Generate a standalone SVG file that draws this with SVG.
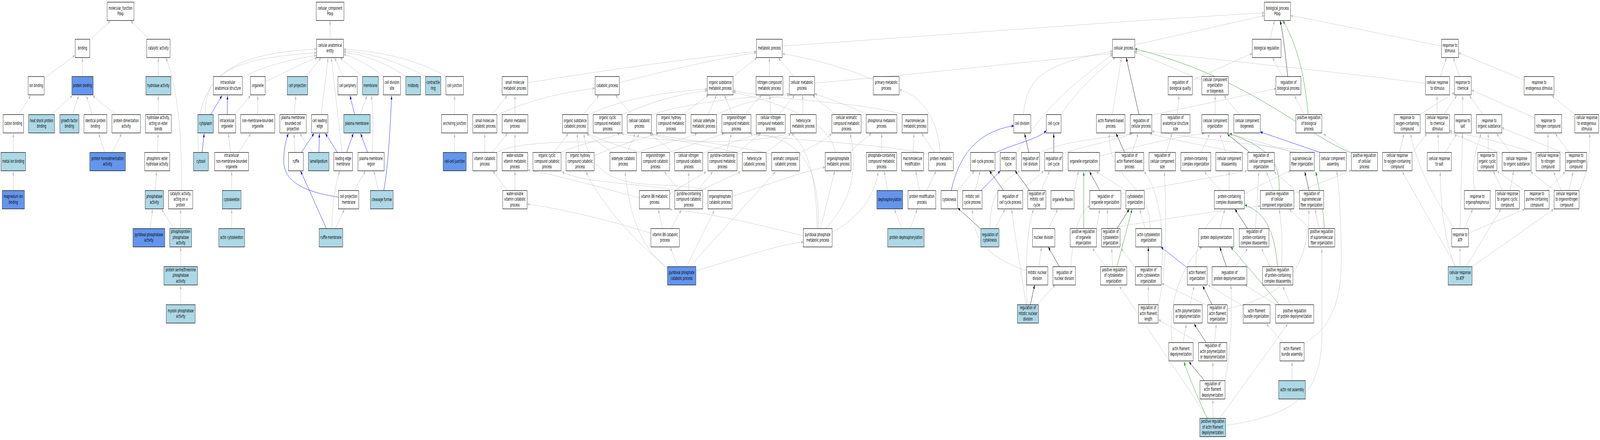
<svg xmlns="http://www.w3.org/2000/svg" width="7680" height="1127" viewBox="0 0 7680 1127" preserveAspectRatio="none" style="width:100vw;height:100vh;display:block">
<style>
.n rect{stroke:#000;stroke-width:1.2}
.w{fill:#fff}.lb{fill:#add8e6}.cb{fill:#6495ed}
text{font-family:"DejaVu Sans",Verdana,sans-serif;font-size:12px;text-anchor:middle;fill:#000}
#edges path{fill:none;stroke-width:1}
.g{stroke:#bebebe;marker-end:url(#ag)}
.b{stroke:#0000ff;marker-end:url(#ab)}
.k{stroke:#000;marker-end:url(#ak)}
.v{stroke:#228b22;marker-end:url(#av)}
</style>
<defs>
<marker id="ag" viewBox="0 0 10 8" refX="10" refY="4" markerWidth="10" markerHeight="8" markerUnits="userSpaceOnUse" orient="auto"><path d="M0,0 L10,4 L0,8 z" fill="#bebebe"/></marker>
<marker id="ab" viewBox="0 0 10 8" refX="10" refY="4" markerWidth="10" markerHeight="8" markerUnits="userSpaceOnUse" orient="auto"><path d="M0,0 L10,4 L0,8 z" fill="#0000ff"/></marker>
<marker id="ak" viewBox="0 0 10 8" refX="10" refY="4" markerWidth="10" markerHeight="8" markerUnits="userSpaceOnUse" orient="auto"><path d="M0,0 L10,4 L0,8 z" fill="#000"/></marker>
<marker id="av" viewBox="0 0 10 8" refX="10" refY="4" markerWidth="10" markerHeight="8" markerUnits="userSpaceOnUse" orient="auto"><path d="M0,0 L10,4 L0,8 z" fill="#228b22"/></marker>
</defs>
<rect x="0" y="0" width="7680" height="1127" fill="#fff"/>
<g id="edges">
<path class="g" d="M433,102 L529,54"/>
<path class="g" d="M714,99 L628,54"/>
<path class="g" d="M212,201 L359,142"/>
<path class="g" d="M396,196 L396,148"/>
<path class="g" d="M247,293 L347,245"/>
<path class="g" d="M349,293 L377,245"/>
<path class="g" d="M442,293 L415,245"/>
<path class="g" d="M555,293 L445,245"/>
<path class="g" d="M760,196 L760,148"/>
<path class="g" d="M872,488 C872,340 855,230 796,148"/>
<path class="g" d="M90,293 L147,245"/>
<path class="g" d="M760,293 L760,245"/>
<path class="g" d="M64,390 L64,342"/>
<path class="g" d="M502,390 L474,342"/>
<path class="g" d="M539,390 L584,342"/>
<path class="g" d="M756,390 L759,342"/>
<path class="g" d="M64,488 L64,439"/>
<path class="g" d="M745,488 L751,439"/>
<path class="g" d="M721,585 L732,536"/>
<path class="g" d="M834,585 L776,536"/>
<path class="g" d="M867,585 L867,536"/>
<path class="g" d="M867,683 L867,633"/>
<path class="g" d="M867,780 L867,731"/>
<path class="b" d="M1012,293 L1065,245"/>
<path class="b" d="M1091,293 L1092,245"/>
<path class="g" d="M1127,293 L1202,245"/>
<path class="g" d="M1237,293 L1237,245"/>
<path class="b" d="M970,390 L980,342"/>
<path class="g" d="M1106,390 L1096,342"/>
<path class="g" d="M1145,390 L1204,342"/>
<path class="g" d="M1112,488 L1112,439"/>
<path class="g" d="M1112,585 L1112,536"/>
<path class="g" d="M953,390 C925,200 1100,135 1519,126"/>
<path class="g" d="M985,293 C985,190 1100,150 1519,135"/>
<path class="g" d="M1163,200 C1250,170 1400,152 1519,142"/>
<path class="g" d="M1273,209 C1350,190 1460,160 1521,148"/>
<path class="g" d="M1584.5,100 L1584.5,53"/>
<path class="g" d="M1468,196 L1541,148"/>
<path class="g" d="M1647,196 L1606,148"/>
<path class="g" d="M1740,196 L1633,148"/>
<path class="g" d="M1840,196 C1780,170 1700,145 1650,140"/>
<path class="g" d="M1948,196 C1850,160 1750,140 1650,134"/>
<path class="g" d="M2042,196 C1920,160 1780,135 1650,130"/>
<path class="g" d="M2140,196 C2000,150 1800,130 1650,126"/>
<path class="g" d="M1541,293 L1575,148"/>
<path class="g" d="M1642,390 L1590,148"/>
<path class="g" d="M1412,293 L1420,245"/>
<path class="b" d="M1702,293 L1680,245"/>
<path class="g" d="M1729,293 L1762,245"/>
<path class="g" d="M1786,390 C1794,330 1792,290 1782,245"/>
<path class="b" d="M1842,488 C1865,420 1872,330 1880,245"/>
<path class="g" d="M2182,293 L2182,245"/>
<path class="g" d="M2182,390 L2182,342"/>
<path class="g" d="M1416,390 L1411,342"/>
<path class="b" d="M1447,390 L1507,342"/>
<path class="g" d="M1499,390 L1439,342"/>
<path class="b" d="M1531,390 L1533,342"/>
<path class="b" d="M1619,390 L1562,342"/>
<path class="b" d="M1664,390 L1696,342"/>
<path class="b" d="M1764,390 L1731,342"/>
<path class="b" d="M1625,505 C1440,490 1360,460 1362,410 C1363,380 1372,360 1384,342"/>
<path class="g" d="M1700,488 L1754,438"/>
<path class="g" d="M1817,488 L1794,438"/>
<path class="b" d="M1567,586 L1443,438"/>
<path class="g" d="M1593,586 C1595,520 1610,470 1631,438"/>
<path class="g" d="M1609,586 L1653,536"/>
<path class="g" d="M2362,293 L2435,245"/>
<path class="g" d="M2472,293 L2472,245"/>
<path class="g" d="M2327,390 L2327,342"/>
<path class="g" d="M2362,390 L2435,342"/>
<path class="g" d="M2472,390 L2472,342"/>
<path class="g" d="M2435,488 L2366,438"/>
<path class="g" d="M2472,488 L2472,438"/>
<path class="g" d="M2385,296 C2500,262 2700,236 2855,226"/>
<path class="g" d="M2533,212 C2900,180 3300,150 3630,132"/>
<path class="g" d="M2385,391 C2480,360 2800,362 2990,365 C3040,366 3060,355 3065,342"/>
<path class="g" d="M2973,212 C3200,180 3450,150 3630,135"/>
<path class="g" d="M3519,196 L3633,148"/>
<path class="g" d="M3693,196 L3693,148"/>
<path class="g" d="M3809,196 L3736,148"/>
<path class="g" d="M4192,205 C4050,170 3850,145 3756,138"/>
<path class="g" d="M3755,118 C4500,90 5500,50 6068,33"/>
<path class="g" d="M3910,213 C4400,190 4900,160 5340,137"/>
<path class="g" d="M2799,293 L2875,244"/>
<path class="g" d="M3031,293 L2955,244"/>
<path class="g" d="M2822,294 C3000,250 3200,236 3394,228"/>
<path class="g" d="M2986,294 C3150,255 3280,240 3394,232"/>
<path class="g" d="M3127,294 C3300,262 3600,248 3789,240"/>
<path class="g" d="M3278,293 L3400,244"/>
<path class="g" d="M3399,293 L3439,244"/>
<path class="g" d="M3441,294 C3550,262 3700,248 3789,244"/>
<path class="g" d="M3515,293 L3477,244"/>
<path class="g" d="M3575,293 L3655,244"/>
<path class="g" d="M3698,293 L3695,244"/>
<path class="g" d="M3738,293 L3814,244"/>
<path class="g" d="M3854,293 L3852,244"/>
<path class="g" d="M4009,293 L3901,244"/>
<path class="g" d="M4163,293 C4050,265 3960,250 3911,240"/>
<path class="g" d="M4330,293 C4150,262 3750,258 3520,232"/>
<path class="g" d="M4008,390 C3990,320 3800,270 3520,236"/>
<path class="g" d="M4232,390 L4232,342"/>
<path class="g" d="M4383,390 L4387,342"/>
<path class="g" d="M4485,390 L4424,342"/>
<path class="g" d="M4513,390 C4500,300 4420,245 4317,230"/>
<path class="g" d="M4458,395 C4200,365 3800,362 3600,342"/>
<path class="g" d="M4260,488 L4244,438"/>
<path class="g" d="M4414,488 L4395,438"/>
<path class="g" d="M4448,488 L4493,438"/>
<path class="g" d="M4330,586 L4293,536"/>
<path class="g" d="M4368,586 L4403,536"/>
<path class="g" d="M4075,390 L4182,342"/>
<path class="g" d="M3938,586 L4007,438"/>
<path class="g" d="M3962,586 C4110,500 4110,420 4081,342"/>
<path class="g" d="M3994,595 C4120,560 4200,500 4215,440"/>
<path class="g" d="M3856,604 C3600,570 3400,545 3214,536"/>
<path class="g" d="M3928,586 C3935,430 3850,360 3640,342"/>
<path class="g" d="M3922,586 C3920,460 3880,380 3800,342"/>
<path class="g" d="M2660,390 L2728,342"/>
<path class="g" d="M2694,390 C2800,365 2920,355 2975,342"/>
<path class="g" d="M2779,390 L2770,342"/>
<path class="g" d="M2852,399 C2950,375 3080,355 3160,342"/>
<path class="g" d="M2937,390 L2815,342"/>
<path class="g" d="M3011,390 L3049,342"/>
<path class="g" d="M3055,392 C3150,370 3300,355 3345,342"/>
<path class="g" d="M3080,392 C2950,370 2870,355 2818,342"/>
<path class="g" d="M3214,390 L3475,342"/>
<path class="g" d="M3373,392 L3640,342"/>
<path class="g" d="M3238,395 C3200,375 3150,355 3118,342"/>
<path class="g" d="M3487,390 L3511,342"/>
<path class="g" d="M3538,392 L3650,342"/>
<path class="g" d="M3678,390 L3796,342"/>
<path class="g" d="M3563,395 C3400,370 3200,360 3120,342"/>
<path class="g" d="M3704,395 C3500,368 3250,358 3125,342"/>
<path class="g" d="M3838,392 C3920,370 3970,355 3992,342"/>
<path class="g" d="M3800,340 C3600,372 3200,368 2982,342"/>
<path class="g" d="M3398,488 C3250,465 3050,485 2930,450 C2850,425 2810,385 2803,342"/>
<path class="g" d="M3245,488 C3100,470 2800,470 2698,440"/>
<path class="g" d="M3306,488 L3306,440"/>
<path class="g" d="M3347,488 L3421,440"/>
<path class="g" d="M3360,488 L3555,440"/>
<path class="g" d="M3262,488 L3189,440"/>
<path class="g" d="M3214,496 L3390,440"/>
<path class="g" d="M3069,507 C2850,475 2650,445 2534,436"/>
<path class="g" d="M3180,586 L3160,536"/>
<path class="g" d="M3220,586 L3270,538"/>
<path class="g" d="M3124,597 C2900,560 2650,530 2531,523"/>
<path class="g" d="M3252,683 L3217,633"/>
<path class="g" d="M3295,683 L3429,539"/>
<path class="g" d="M3311,683 L3722,440"/>
<path class="g" d="M3340,694 C3550,660 3750,625 3856,620"/>
<path class="g" d="M3205,686 C3050,620 2880,520 2813,440"/>
<path class="g" d="M3209,690 C3080,640 3020,550 3001,440"/>
<path class="g" d="M3514,503 C3700,470 3850,440 3961,428"/>
<path class="g" d="M4912,293 C4930,200 5000,165 5340,131"/>
<path class="g" d="M5094,293 C5170,230 5280,180 5353,147"/>
<path class="g" d="M4878,393 C4950,330 5050,250 5340,140"/>
<path class="b" d="M4566,488 C4610,380 4720,335 4866,322"/>
<path class="g" d="M4595,488 L4677,438"/>
<path class="g" d="M4681,488 L4705,438"/>
<path class="b" d="M4709,488 L4801,438"/>
<path class="b" d="M4776,392 C4880,365 4970,360 5022,335"/>
<path class="k" d="M4938,390 L4918,342"/>
<path class="k" d="M5058,390 L5058,342"/>
<path class="k" d="M4817,488 L4750,438"/>
<path class="g" d="M4900,488 L5010,438"/>
<path class="k" d="M4942,488 L4873,438"/>
<path class="g" d="M4997,488 L5039,438"/>
<path class="k" d="M4707,586 L4598,533"/>
<path class="g" d="M4775,586 L4824,536"/>
<path class="g" d="M4752,586 C4752,500 4800,470 4895,437"/>
<path class="g" d="M4928,694 C4750,660 4670,620 4668,536"/>
<path class="g" d="M4925,780 C4900,690 4870,600 4856,536"/>
<path class="g" d="M4930,780 C4920,680 4930,580 4962,536"/>
<path class="k" d="M4946,780 L4966,730"/>
<path class="g" d="M4979,780 L5064,730"/>
<path class="g" d="M4987,683 L4999,633"/>
<path class="k" d="M5085,683 L5032,633"/>
<path class="g" d="M5032,586 L5077,536"/>
<path class="g" d="M5140,683 C5150,600 5180,540 5231,528"/>
<path class="g" d="M5156,489 L5177,438"/>
<path class="g" d="M4989,392 C5100,360 5300,355 5430,342"/>
<path class="g" d="M5102,393 C5200,375 5350,360 5435,342"/>
<path class="g" d="M5447,115 L6068,40"/>
<path class="g" d="M6096,100 L6118,53"/>
<path class="k" d="M6181,196 C6170,140 6160,90 6145,53"/>
<path class="v" d="M6279,293 C6260,180 6220,110 6158,53"/>
<path class="g" d="M6157,196 L6108,148"/>
<path class="g" d="M5724,205 L6010,137"/>
<path class="g" d="M5769,205 L5447,133"/>
<path class="g" d="M5529,295 L6124,227"/>
<path class="k" d="M5467,293 L5406,148"/>
<path class="g" d="M5339,293 L5383,148"/>
<path class="g" d="M5651,293 L5659,245"/>
<path class="g" d="M5833,293 L5833,245"/>
<path class="g" d="M5949,293 L5875,245"/>
<path class="g" d="M6259,293 L6214,245"/>
<path class="v" d="M6487,392 C6250,340 6000,200 5448,125"/>
<path class="g" d="M6487,400 C6200,380 5800,360 5530,336"/>
<path class="g" d="M6490,392 L6353,343"/>
<path class="g" d="M6210,496 L6487,436"/>
<path class="g" d="M6842,214 C6600,195 5800,150 5448,130"/>
<path class="g" d="M6919,118 C6700,95 6400,60 6195,40"/>
<path class="g" d="M5278,400 C5450,375 5650,350 5780,342"/>
<path class="k" d="M5398,390 L5357,342"/>
<path class="g" d="M5434,390 L5463,342"/>
<path class="g" d="M5598,390 L5626,342"/>
<path class="g" d="M5765,390 L5806,343"/>
<path class="g" d="M5883,390 L5855,343"/>
<path class="k" d="M5998,390 L5891,343"/>
<path class="g" d="M5989,395 C5800,375 5600,355 5520,342"/>
<path class="b" d="M6334,390 L6050,338"/>
<path class="g" d="M6334,400 C6100,380 5950,360 5895,342"/>
<path class="g" d="M6200,390 C6100,370 5980,355 5890,342"/>
<path class="k" d="M5279,488 L5230,440"/>
<path class="g" d="M5380,496 L5985,438"/>
<path class="g" d="M5404,488 L5263,440"/>
<path class="v" d="M5202,586 L5202,440"/>
<path class="g" d="M5263,586 L5279,536"/>
<path class="g" d="M5263,590 C5600,560 5900,535 6050,528"/>
<path class="g" d="M5316,586 L5316,536"/>
<path class="k" d="M5361,586 L5420,536"/>
<path class="g" d="M5497,586 L5471,536"/>
<path class="g" d="M5520,586 C5530,470 5320,470 5324,342"/>
<path class="v" d="M5361,683 L5434,536"/>
<path class="g" d="M5308,683 L5243,636"/>
<path class="g" d="M5340,683 L5336,636"/>
<path class="k" d="M5512,683 L5512,633"/>
<path class="g" d="M5446,683 L5381,636"/>
<path class="g" d="M5574,690 C5595,600 5560,480 5491,440"/>
<path class="b" d="M5699,686 L5573,633"/>
<path class="g" d="M5740,683 C5735,560 5900,510 6195,437"/>
<path class="k" d="M5887,683 L5855,633"/>
<path class="g" d="M5928,683 L5989,636"/>
<path class="g" d="M5855,586 L5879,536"/>
<path class="g" d="M5859,488 L5781,440"/>
<path class="g" d="M5900,488 L5900,438"/>
<path class="k" d="M5989,586 L5928,536"/>
<path class="g" d="M6026,586 L6042,440"/>
<path class="v" d="M6132,683 C6120,600 6080,545 5975,525"/>
<path class="g" d="M6096,683 L6055,636"/>
<path class="g" d="M6150,683 C6160,620 6150,570 6140,536"/>
<path class="v" d="M6140,488 C6145,420 6100,380 5903,342"/>
<path class="g" d="M6112,488 L6079,440"/>
<path class="v" d="M6140,780 C6080,740 6000,690 5908,633"/>
<path class="g" d="M6194,780 L6157,733"/>
<path class="g" d="M6124,780 L5977,730"/>
<path class="k" d="M6283,488 L6263,440"/>
<path class="g" d="M6238,496 L6116,440"/>
<path class="g" d="M6332,586 L6312,536"/>
<path class="g" d="M6287,586 L6189,536"/>
<path class="v" d="M6357,586 C6350,520 6330,480 6316,440"/>
<path class="v" d="M5794,1071 C5750,1020 5710,970 5683,927"/>
<path class="g" d="M5822,1071 L5822,1023"/>
<path class="g" d="M5855,1071 L6181,830"/>
<path class="g" d="M5798,1071 L5373,733"/>
<path class="g" d="M5883,1090 C6250,1060 6345,1000 6345,850 L6345,637"/>
<path class="k" d="M5781,975 L5708,927"/>
<path class="g" d="M5822,975 L5822,927"/>
<path class="g" d="M5879,978 C5910,900 5915,800 5908,730"/>
<path class="g" d="M5679,877 L5695,830"/>
<path class="g" d="M5626,880 C5600,760 5700,660 5770,633"/>
<path class="k" d="M5789,877 L5732,830"/>
<path class="g" d="M5830,877 L5838,830"/>
<path class="g" d="M5753,877 L5561,819"/>
<path class="g" d="M5712,780 L5732,733"/>
<path class="k" d="M5818,780 L5773,733"/>
<path class="g" d="M5797,783 L5577,726"/>
<path class="g" d="M5891,791 C6150,760 6280,700 6283,537"/>
<path class="g" d="M5512,780 L5512,733"/>
<path class="g" d="M5559,783 C5600,700 5600,560 5589,440"/>
<path class="g" d="M5965,783 L5798,730"/>
<path class="g" d="M6161,877 L6079,830"/>
<path class="g" d="M6202,975 L6202,927"/>
<path class="g" d="M6260,880 C6420,830 6440,740 6438,650 C6436,540 6425,470 6416,438"/>
<path class="g" d="M6914,196 L6943,148"/>
<path class="g" d="M7006,196 L6976,148"/>
<path class="g" d="M7316,205 L7001,135"/>
<path class="g" d="M6817,293 L6981,237"/>
<path class="g" d="M6898,293 L6898,245"/>
<path class="g" d="M6931,293 L6992,245"/>
<path class="g" d="M7021,293 L7021,245"/>
<path class="g" d="M7118,293 L7053,245"/>
<path class="g" d="M7367,302 L7064,231"/>
<path class="g" d="M7559,293 L7449,245"/>
<path class="g" d="M6718,390 L6739,342"/>
<path class="g" d="M6776,392 L6849,342"/>
<path class="g" d="M6906,390 L6902,342"/>
<path class="g" d="M6939,390 L6992,342"/>
<path class="g" d="M7143,390 L7144,342"/>
<path class="g" d="M7249,390 L7184,342"/>
<path class="g" d="M7210,394 C7100,370 7000,350 6958,338"/>
<path class="g" d="M7430,390 L7430,342"/>
<path class="g" d="M7373,394 C7200,360 7050,348 6958,334"/>
<path class="g" d="M7531,390 L7465,342"/>
<path class="g" d="M7514,394 L7209,327"/>
<path class="g" d="M7078,488 C7060,420 7090,370 7110,342"/>
<path class="g" d="M7212,488 L7167,438"/>
<path class="g" d="M7249,488 L7265,438"/>
<path class="g" d="M7320,490 L7186,438"/>
<path class="g" d="M7425,488 L7513,440"/>
<path class="g" d="M7462,488 L7347,440"/>
<path class="g" d="M7494,488 L7457,440"/>
<path class="g" d="M7531,488 L7551,440"/>
<path class="g" d="M7580,488 C7625,440 7635,380 7629,342"/>
<path class="g" d="M7029,586 L7069,536"/>
<path class="g" d="M7049,597 L7318,536"/>
<path class="g" d="M7008,586 L7020,342"/>
<path class="g" d="M6981,586 C6900,520 6800,430 6771,342"/>
<path class="g" d="M7008,683 L7008,633"/>
<path class="g" d="M6988,683 L6731,440"/>
<path class="g" d="M6984,683 C6930,610 6915,520 6913,440"/>
<path class="g" d="M7037,683 L7204,536"/>
<path class="g" d="M7067,683 L7457,536"/>
</g>
<g id="n_mf" class="n"><rect class="w" x="514" y="5.5" width="129" height="47"/><text x="578.5" y="25">molecular_function<tspan x="578.5" dy="14.5">Pdxp</tspan></text></g>
<g id="n_binding" class="n"><rect class="w" x="361" y="100.5" width="70" height="47"/><text x="396" y="127.5">binding</text></g>
<g id="n_cat" class="n"><rect class="w" x="704" y="100.5" width="112" height="47"/><text x="760" y="127.5">catalytic activity</text></g>
<g id="n_ionb" class="n"><rect class="w" x="135" y="196" width="77" height="47"/><text x="173.5" y="223">ion binding</text></g>
<g id="n_protb" class="n"><rect class="cb" x="345" y="196" width="102" height="47"/><text x="396" y="223">protein binding</text></g>
<g id="n_hydro" class="n"><rect class="lb" x="700" y="196" width="120" height="47"/><text x="760" y="223">hydrolase activity</text></g>
<g id="n_iaas" class="n"><rect class="w" x="1024" y="196" width="139" height="47"/><text x="1093.5" y="215.5">intracellular<tspan x="1093.5" dy="14.5">anatomical structure</tspan></text></g>
<g id="n_organelle" class="n"><rect class="w" x="1202" y="196" width="71" height="47"/><text x="1237.5" y="223">organelle</text></g>
<g id="n_cationb" class="n"><rect class="w" x="15" y="293.5" width="98" height="47"/><text x="64" y="320.5">cation binding</text></g>
<g id="n_hsp" class="n"><rect class="lb" x="137" y="293.5" width="125" height="47"/><text x="199.5" y="313">heat shock protein<tspan x="199.5" dy="14.5">binding</tspan></text></g>
<g id="n_gfb" class="n"><rect class="lb" x="287" y="293.5" width="92" height="47"/><text x="333" y="313">growth factor<tspan x="333" dy="14.5">binding</tspan></text></g>
<g id="n_ipb" class="n"><rect class="w" x="403" y="293.5" width="110" height="47"/><text x="458" y="313">identical protein<tspan x="458" dy="14.5">binding</tspan></text></g>
<g id="n_pda" class="n"><rect class="w" x="537" y="293.5" width="137" height="47"/><text x="605.5" y="313">protein dimerization<tspan x="605.5" dy="14.5">activity</tspan></text></g>
<g id="n_haeb" class="n"><rect class="w" x="698" y="293.5" width="124" height="47"/><text x="760" y="305.5">hydrolase activity,<tspan x="760" dy="14.5">acting on ester</tspan><tspan x="760" dy="14.5">bonds</tspan></text></g>
<g id="n_cytoplasm" class="n"><rect class="lb" x="950" y="293.5" width="74" height="47"/><text x="987" y="320.5">cytoplasm</text></g>
<g id="n_io" class="n"><rect class="w" x="1049" y="293.5" width="82" height="47"/><text x="1090" y="313">intracellular<tspan x="1090" dy="14.5">organelle</tspan></text></g>
<g id="n_nmbo" class="n"><rect class="w" x="1155" y="293.5" width="164" height="47"/><text x="1237" y="313">non-membrane-bounded<tspan x="1237" dy="14.5">organelle</tspan></text></g>
<g id="n_mib" class="n"><rect class="lb" x="5" y="390.5" width="118" height="47"/><text x="64" y="417.5">metal ion binding</text></g>
<g id="n_phda" class="n"><rect class="cb" x="431" y="390.5" width="171" height="47"/><text x="516.5" y="410">protein homodimerization<tspan x="516.5" dy="14.5">activity</tspan></text></g>
<g id="n_peha" class="n"><rect class="w" x="694" y="390.5" width="121" height="47"/><text x="754.5" y="410">phosphoric ester<tspan x="754.5" dy="14.5">hydrolase activity</tspan></text></g>
<g id="n_cytosol" class="n"><rect class="lb" x="929" y="390.5" width="71" height="47"/><text x="964.5" y="417.5">cytosol</text></g>
<g id="n_inmbo" class="n"><rect class="w" x="1030" y="390.5" width="163" height="47"/><text x="1111.5" y="402.5">intracellular<tspan x="1111.5" dy="14.5">non-membrane-bounded</tspan><tspan x="1111.5" dy="14.5">organelle</tspan></text></g>
<g id="n_mgb" class="n"><rect class="cb" x="11" y="488" width="106" height="47"/><text x="64" y="507.5">magnesium ion<tspan x="64" dy="14.5">binding</tspan></text></g>
<g id="n_phosa" class="n"><rect class="lb" x="697" y="488" width="88" height="47"/><text x="741" y="507.5">phosphatase<tspan x="741" dy="14.5">activity</tspan></text></g>
<g id="n_capa" class="n"><rect class="w" x="809" y="488" width="116" height="47"/><text x="867" y="500">catalytic activity,<tspan x="867" dy="14.5">acting on a</tspan><tspan x="867" dy="14.5">protein</tspan></text></g>
<g id="n_cytosk" class="n"><rect class="lb" x="1068" y="488" width="89" height="47"/><text x="1112.5" y="515">cytoskeleton</text></g>
<g id="n_pyrpa" class="n"><rect class="cb" x="638" y="585.5" width="153" height="47"/><text x="714.5" y="605">pyridoxal phosphatase<tspan x="714.5" dy="14.5">activity</tspan></text></g>
<g id="n_ppa" class="n"><rect class="lb" x="815" y="585.5" width="105" height="47"/><text x="867.5" y="597.5">phosphoprotein<tspan x="867.5" dy="14.5">phosphatase</tspan><tspan x="867.5" dy="14.5">activity</tspan></text></g>
<g id="n_actcyto" class="n"><rect class="lb" x="1050" y="585.5" width="124" height="47"/><text x="1112" y="612.5">actin cytoskeleton</text></g>
<g id="n_pstpa" class="n"><rect class="lb" x="787" y="683" width="161" height="47"/><text x="867.5" y="695">protein serine/threonine<tspan x="867.5" dy="14.5">phosphatase</tspan><tspan x="867.5" dy="14.5">activity</tspan></text></g>
<g id="n_myo" class="n"><rect class="lb" x="798" y="780.5" width="139" height="47"/><text x="867.5" y="800">myosin phosphatase<tspan x="867.5" dy="14.5">activity</tspan></text></g>
<g id="n_cc" class="n"><rect class="w" x="1518" y="5.5" width="133" height="47"/><text x="1584.5" y="25">cellular_component<tspan x="1584.5" dy="14.5">Pdxp</tspan></text></g>
<g id="n_cae" class="n"><rect class="w" x="1520" y="100.5" width="129" height="47"/><text x="1584.5" y="120">cellular anatomical<tspan x="1584.5" dy="14.5">entity</tspan></text></g>
<g id="n_cproj" class="n"><rect class="lb" x="1379" y="196" width="98" height="47"/><text x="1428" y="223">cell projection</text></g>
<g id="n_cper" class="n"><rect class="w" x="1622" y="196" width="93" height="47"/><text x="1668.5" y="223">cell periphery</text></g>
<g id="n_memb" class="n"><rect class="lb" x="1740" y="196" width="76" height="47"/><text x="1778" y="223">membrane</text></g>
<g id="n_cds" class="n"><rect class="w" x="1840" y="196" width="83" height="47"/><text x="1881.5" y="215.5">cell division<tspan x="1881.5" dy="14.5">site</tspan></text></g>
<g id="n_midbody" class="n"><rect class="lb" x="1948" y="196" width="71" height="47"/><text x="1983.5" y="223">midbody</text></g>
<g id="n_cring" class="n"><rect class="lb" x="2042" y="196" width="74" height="47"/><text x="2079" y="215.5">contractile<tspan x="2079" dy="14.5">ring</tspan></text></g>
<g id="n_cjunc" class="n"><rect class="w" x="2140" y="196" width="85" height="47"/><text x="2182.5" y="223">cell junction</text></g>
<g id="n_pmbcp" class="n"><rect class="w" x="1343" y="293.5" width="127" height="47"/><text x="1406.5" y="305.5">plasma membrane<tspan x="1406.5" dy="14.5">bounded cell</tspan><tspan x="1406.5" dy="14.5">projection</tspan></text></g>
<g id="n_cle" class="n"><rect class="w" x="1495" y="293.5" width="79" height="47"/><text x="1534.5" y="313">cell leading<tspan x="1534.5" dy="14.5">edge</tspan></text></g>
<g id="n_pm" class="n"><rect class="lb" x="1650" y="293.5" width="127" height="47"/><text x="1713.5" y="320.5">plasma membrane</text></g>
<g id="n_ajunc" class="n"><rect class="w" x="2120" y="293.5" width="124" height="47"/><text x="2182" y="320.5">anchoring junction</text></g>
<g id="n_ruffle" class="n"><rect class="w" x="1385" y="390.5" width="71" height="47"/><text x="1420.5" y="417.5">ruffle</text></g>
<g id="n_lamel" class="n"><rect class="lb" x="1480" y="390.5" width="99" height="47"/><text x="1529.5" y="417.5">lamellipodium</text></g>
<g id="n_lem" class="n"><rect class="w" x="1602" y="390.5" width="90" height="47"/><text x="1647" y="410">leading edge<tspan x="1647" dy="14.5">membrane</tspan></text></g>
<g id="n_pmr" class="n"><rect class="w" x="1718" y="390.5" width="126" height="47"/><text x="1781" y="410">plasma membrane<tspan x="1781" dy="14.5">region</tspan></text></g>
<g id="n_ccj" class="n"><rect class="cb" x="2127" y="390.5" width="111" height="47"/><text x="2182.5" y="417.5">cell-cell junction</text></g>
<g id="n_cpm" class="n"><rect class="w" x="1625" y="488" width="97" height="47"/><text x="1673.5" y="507.5">cell projection<tspan x="1673.5" dy="14.5">membrane</tspan></text></g>
<g id="n_cfur" class="n"><rect class="lb" x="1778" y="488" width="109" height="47"/><text x="1832.5" y="515">cleavage furrow</text></g>
<g id="n_rmem" class="n"><rect class="lb" x="1532" y="585.5" width="113" height="47"/><text x="1588.5" y="612.5">ruffle membrane</text></g>
<g id="n_smm" class="n"><rect class="w" x="2410" y="196" width="123" height="47"/><text x="2471.5" y="215.5">small molecule<tspan x="2471.5" dy="14.5">metabolic process</tspan></text></g>
<g id="n_smc" class="n"><rect class="w" x="2269" y="293.5" width="116" height="47"/><text x="2327" y="313">small molecule<tspan x="2327" dy="14.5">catabolic process</tspan></text></g>
<g id="n_vm" class="n"><rect class="w" x="2410" y="293.5" width="124" height="47"/><text x="2472" y="313">vitamin metabolic<tspan x="2472" dy="14.5">process</tspan></text></g>
<g id="n_vc" class="n"><rect class="w" x="2269" y="390.5" width="116" height="47"/><text x="2327" y="410">vitamin catabolic<tspan x="2327" dy="14.5">process</tspan></text></g>
<g id="n_wsvm" class="n"><rect class="w" x="2410" y="390.5" width="123" height="47"/><text x="2471.5" y="402.5">water-soluble<tspan x="2471.5" dy="14.5">vitamin metabolic</tspan><tspan x="2471.5" dy="14.5">process</tspan></text></g>
<g id="n_wsvc" class="n"><rect class="w" x="2413" y="488" width="117" height="47"/><text x="2471.5" y="500">water-soluble<tspan x="2471.5" dy="14.5">vitamin catabolic</tspan><tspan x="2471.5" dy="14.5">process</tspan></text></g>
<g id="n_metab" class="n"><rect class="w" x="3631" y="100.5" width="124" height="47"/><text x="3693" y="127.5">metabolic process</text></g>
<g id="n_catab" class="n"><rect class="w" x="2857" y="196" width="116" height="47"/><text x="2915" y="223">catabolic process</text></g>
<g id="n_osm" class="n"><rect class="w" x="3395" y="196" width="124" height="47"/><text x="3457" y="215.5">organic substance<tspan x="3457" dy="14.5">metabolic process</tspan></text></g>
<g id="n_ncm" class="n"><rect class="w" x="3629" y="196" width="129" height="47"/><text x="3693.5" y="215.5">nitrogen compound<tspan x="3693.5" dy="14.5">metabolic process</tspan></text></g>
<g id="n_cm" class="n"><rect class="w" x="3789" y="196" width="121" height="47"/><text x="3849.5" y="215.5">cellular metabolic<tspan x="3849.5" dy="14.5">process</tspan></text></g>
<g id="n_osc" class="n"><rect class="w" x="2700" y="293.5" width="122" height="47"/><text x="2761" y="313">organic substance<tspan x="2761" dy="14.5">catabolic process</tspan></text></g>
<g id="n_occm" class="n"><rect class="w" x="2847" y="293.5" width="139" height="47"/><text x="2916.5" y="305.5">organic cyclic<tspan x="2916.5" dy="14.5">compound metabolic</tspan><tspan x="2916.5" dy="14.5">process</tspan></text></g>
<g id="n_ccat" class="n"><rect class="w" x="3011" y="293.5" width="116" height="47"/><text x="3069" y="313">cellular catabolic<tspan x="3069" dy="14.5">process</tspan></text></g>
<g id="n_ohcm" class="n"><rect class="w" x="3152" y="293.5" width="139" height="47"/><text x="3221.5" y="305.5">organic hydroxy<tspan x="3221.5" dy="14.5">compound metabolic</tspan><tspan x="3221.5" dy="14.5">process</tspan></text></g>
<g id="n_cam" class="n"><rect class="w" x="3317" y="293.5" width="123" height="47"/><text x="3378.5" y="313">cellular aldehyde<tspan x="3378.5" dy="14.5">metabolic process</tspan></text></g>
<g id="n_oncm" class="n"><rect class="w" x="3465" y="293.5" width="140" height="47"/><text x="3535" y="305.5">organonitrogen<tspan x="3535" dy="14.5">compound metabolic</tspan><tspan x="3535" dy="14.5">process</tspan></text></g>
<g id="n_cncm" class="n"><rect class="w" x="3630" y="293.5" width="139" height="47"/><text x="3699.5" y="305.5">cellular nitrogen<tspan x="3699.5" dy="14.5">compound metabolic</tspan><tspan x="3699.5" dy="14.5">process</tspan></text></g>
<g id="n_hm" class="n"><rect class="w" x="3794" y="293.5" width="124" height="47"/><text x="3856" y="313">heterocycle<tspan x="3856" dy="14.5">metabolic process</tspan></text></g>
<g id="n_occc" class="n"><rect class="w" x="2558" y="390.5" width="135" height="47"/><text x="2625.5" y="402.5">organic cyclic<tspan x="2625.5" dy="14.5">compound catabolic</tspan><tspan x="2625.5" dy="14.5">process</tspan></text></g>
<g id="n_ohcc" class="n"><rect class="w" x="2717" y="390.5" width="135" height="47"/><text x="2784.5" y="402.5">organic hydroxy<tspan x="2784.5" dy="14.5">compound catabolic</tspan><tspan x="2784.5" dy="14.5">process</tspan></text></g>
<g id="n_acp" class="n"><rect class="w" x="2928" y="390.5" width="127" height="47"/><text x="2991.5" y="410">aldehyde catabolic<tspan x="2991.5" dy="14.5">process</tspan></text></g>
<g id="n_oncc" class="n"><rect class="w" x="3079" y="390.5" width="135" height="47"/><text x="3146.5" y="402.5">organonitrogen<tspan x="3146.5" dy="14.5">compound catabolic</tspan><tspan x="3146.5" dy="14.5">process</tspan></text></g>
<g id="n_cncc" class="n"><rect class="w" x="3238" y="390.5" width="135" height="47"/><text x="3305.5" y="402.5">cellular nitrogen<tspan x="3305.5" dy="14.5">compound catabolic</tspan><tspan x="3305.5" dy="14.5">process</tspan></text></g>
<g id="n_pcm" class="n"><rect class="w" x="3398" y="390.5" width="140" height="47"/><text x="3468" y="402.5">pyridine-containing<tspan x="3468" dy="14.5">compound metabolic</tspan><tspan x="3468" dy="14.5">process</tspan></text></g>
<g id="n_hc" class="n"><rect class="w" x="3563" y="390.5" width="115" height="47"/><text x="3620.5" y="410">heterocycle<tspan x="3620.5" dy="14.5">catabolic process</tspan></text></g>
<g id="n_acc" class="n"><rect class="w" x="3704" y="390.5" width="134" height="47"/><text x="3771" y="410">aromatic compound<tspan x="3771" dy="14.5">catabolic process</tspan></text></g>
<g id="n_vb6m" class="n"><rect class="w" x="3069" y="488" width="145" height="47"/><text x="3141.5" y="507.5">vitamin B6 metabolic<tspan x="3141.5" dy="14.5">process</tspan></text></g>
<g id="n_pcc" class="n"><rect class="w" x="3239" y="488" width="134" height="47"/><text x="3306" y="500">pyridine-containing<tspan x="3306" dy="14.5">compound catabolic</tspan><tspan x="3306" dy="14.5">process</tspan></text></g>
<g id="n_opc" class="n"><rect class="w" x="3398" y="488" width="116" height="47"/><text x="3456" y="507.5">organophosphate<tspan x="3456" dy="14.5">catabolic process</tspan></text></g>
<g id="n_vb6c" class="n"><rect class="w" x="3124" y="585.5" width="137" height="47"/><text x="3192.5" y="605">vitamin B6 catabolic<tspan x="3192.5" dy="14.5">process</tspan></text></g>
<g id="n_plpc" class="n"><rect class="cb" x="3204" y="683" width="136" height="47"/><text x="3272" y="702.5">pyridoxal phosphate<tspan x="3272" dy="14.5">catabolic process</tspan></text></g>
<g id="n_prim" class="n"><rect class="w" x="4192" y="196" width="124" height="47"/><text x="4254" y="215.5">primary metabolic<tspan x="4254" dy="14.5">process</tspan></text></g>
<g id="n_cacm" class="n"><rect class="w" x="3993" y="293.5" width="140" height="47"/><text x="4063" y="305.5">cellular aromatic<tspan x="4063" dy="14.5">compound metabolic</tspan><tspan x="4063" dy="14.5">process</tspan></text></g>
<g id="n_phm" class="n"><rect class="w" x="4158" y="293.5" width="147" height="47"/><text x="4231.5" y="313">phosphorus metabolic<tspan x="4231.5" dy="14.5">process</tspan></text></g>
<g id="n_mmm" class="n"><rect class="w" x="4330" y="293.5" width="123" height="47"/><text x="4391.5" y="313">macromolecule<tspan x="4391.5" dy="14.5">metabolic process</tspan></text></g>
<g id="n_cdiv" class="n"><rect class="w" x="4866" y="293.5" width="82" height="47"/><text x="4907" y="320.5">cell division</text></g>
<g id="n_ccyc" class="n"><rect class="w" x="5022" y="293.5" width="71" height="47"/><text x="5057.5" y="320.5">cell cycle</text></g>
<g id="n_opm" class="n"><rect class="w" x="3961" y="390.5" width="124" height="47"/><text x="4023" y="410">organophosphate<tspan x="4023" dy="14.5">metabolic process</tspan></text></g>
<g id="n_pccm" class="n"><rect class="w" x="4159" y="390.5" width="145" height="47"/><text x="4231.5" y="402.5">phosphate-containing<tspan x="4231.5" dy="14.5">compound metabolic</tspan><tspan x="4231.5" dy="14.5">process</tspan></text></g>
<g id="n_mmod" class="n"><rect class="w" x="4327" y="390.5" width="106" height="47"/><text x="4380" y="410">macromolecule<tspan x="4380" dy="14.5">modification</tspan></text></g>
<g id="n_protm" class="n"><rect class="w" x="4458" y="390.5" width="118" height="47"/><text x="4517" y="410">protein metabolic<tspan x="4517" dy="14.5">process</tspan></text></g>
<g id="n_ccp" class="n"><rect class="w" x="4658" y="390.5" width="118" height="47"/><text x="4717" y="417.5">cell cycle process</text></g>
<g id="n_mcc" class="n"><rect class="w" x="4801" y="390.5" width="77" height="47"/><text x="4839.5" y="410">mitotic cell<tspan x="4839.5" dy="14.5">cycle</tspan></text></g>
<g id="n_rcd" class="n"><rect class="w" x="4903" y="390.5" width="87" height="47"/><text x="4946.5" y="410">regulation of<tspan x="4946.5" dy="14.5">cell division</tspan></text></g>
<g id="n_rcc" class="n"><rect class="w" x="5014" y="390.5" width="87" height="47"/><text x="5057.5" y="410">regulation of<tspan x="5057.5" dy="14.5">cell cycle</tspan></text></g>
<g id="n_dephos" class="n"><rect class="cb" x="4209" y="488" width="124" height="47"/><text x="4271" y="515">dephosphorylation</text></g>
<g id="n_pmodp" class="n"><rect class="w" x="4358" y="488" width="134" height="47"/><text x="4425" y="507.5">protein modification<tspan x="4425" dy="14.5">process</tspan></text></g>
<g id="n_cytok" class="n"><rect class="w" x="4517" y="488" width="79" height="47"/><text x="4556.5" y="515">cytokinesis</text></g>
<g id="n_mccp" class="n"><rect class="w" x="4621" y="488" width="93" height="47"/><text x="4667.5" y="507.5">mitotic cell<tspan x="4667.5" dy="14.5">cycle process</tspan></text></g>
<g id="n_rccp" class="n"><rect class="w" x="4789" y="488" width="120" height="47"/><text x="4849" y="507.5">regulation of<tspan x="4849" dy="14.5">cell cycle process</tspan></text></g>
<g id="n_rmcc" class="n"><rect class="w" x="4933" y="488" width="87" height="47"/><text x="4976.5" y="500">regulation of<tspan x="4976.5" dy="14.5">mitotic cell</tspan><tspan x="4976.5" dy="14.5">cycle</tspan></text></g>
<g id="n_ofis" class="n"><rect class="w" x="5045" y="488" width="111" height="47"/><text x="5100.5" y="515">organelle fission</text></g>
<g id="n_plpm" class="n"><rect class="w" x="3856" y="585.5" width="138" height="47"/><text x="3925" y="605">pyridoxal phosphate<tspan x="3925" dy="14.5">metabolic process</tspan></text></g>
<g id="n_pdeph" class="n"><rect class="lb" x="4261" y="585.5" width="175" height="47"/><text x="4348.5" y="612.5">protein dephosphorylation</text></g>
<g id="n_rcytok" class="n"><rect class="lb" x="4708" y="585.5" width="87" height="47"/><text x="4751.5" y="605">regulation of<tspan x="4751.5" dy="14.5">cytokinesis</tspan></text></g>
<g id="n_nucdiv" class="n"><rect class="w" x="4956" y="585.5" width="107" height="47"/><text x="5009.5" y="612.5">nuclear division</text></g>
<g id="n_mnd" class="n"><rect class="w" x="4928" y="683" width="102" height="47"/><text x="4979" y="702.5">mitotic nuclear<tspan x="4979" dy="14.5">division</tspan></text></g>
<g id="n_rnd" class="n"><rect class="w" x="5054" y="683" width="108" height="47"/><text x="5108" y="702.5">regulation of<tspan x="5108" dy="14.5">nuclear division</tspan></text></g>
<g id="n_rmnd" class="n"><rect class="lb" x="4883" y="780.5" width="102" height="47"/><text x="4934" y="792.5">regulation of<tspan x="4934" dy="14.5">mitotic nuclear</tspan><tspan x="4934" dy="14.5">division</tspan></text></g>
<g id="n_bp" class="n"><rect class="w" x="6069" y="5.5" width="125" height="47"/><text x="6131.5" y="25">biological_process<tspan x="6131.5" dy="14.5">Pdxp</tspan></text></g>
<g id="n_cp" class="n"><rect class="w" x="5340" y="100.5" width="107" height="47"/><text x="5393.5" y="127.5">cellular process</text></g>
<g id="n_breg" class="n"><rect class="w" x="6011" y="100.5" width="138" height="47"/><text x="6080" y="127.5">biological regulation</text></g>
<g id="n_rbq" class="n"><rect class="w" x="5607" y="196" width="116" height="47"/><text x="5665" y="215.5">regulation of<tspan x="5665" dy="14.5">biological quality</tspan></text></g>
<g id="n_ccob" class="n"><rect class="w" x="5769" y="196" width="127" height="47"/><text x="5832.5" y="208">cellular component<tspan x="5832.5" dy="14.5">organization</tspan><tspan x="5832.5" dy="14.5">or biogenesis</tspan></text></g>
<g id="n_rbp" class="n"><rect class="w" x="6124" y="196" width="121" height="47"/><text x="6184.5" y="215.5">regulation of<tspan x="6184.5" dy="14.5">biological process</tspan></text></g>
<g id="n_afbp" class="n"><rect class="w" x="5263" y="293.5" width="137" height="47"/><text x="5331.5" y="313">actin filament-based<tspan x="5331.5" dy="14.5">process</tspan></text></g>
<g id="n_rcp" class="n"><rect class="w" x="5425" y="293.5" width="104" height="47"/><text x="5477" y="313">regulation of<tspan x="5477" dy="14.5">cellular process</tspan></text></g>
<g id="n_rass" class="n"><rect class="w" x="5573" y="293.5" width="139" height="47"/><text x="5642.5" y="305.5">regulation of<tspan x="5642.5" dy="14.5">anatomical structure</tspan><tspan x="5642.5" dy="14.5">size</tspan></text></g>
<g id="n_cco" class="n"><rect class="w" x="5769" y="293.5" width="127" height="47"/><text x="5832.5" y="313">cellular component<tspan x="5832.5" dy="14.5">organization</tspan></text></g>
<g id="n_ccb" class="n"><rect class="w" x="5922" y="293.5" width="128" height="47"/><text x="5986" y="313">cellular component<tspan x="5986" dy="14.5">biogenesis</tspan></text></g>
<g id="n_prbp" class="n"><rect class="w" x="6220" y="293.5" width="125" height="47"/><text x="6282.5" y="305.5">positive regulation<tspan x="6282.5" dy="14.5">of biological</tspan><tspan x="6282.5" dy="14.5">process</tspan></text></g>
<g id="n_oo" class="n"><rect class="w" x="5127" y="390.5" width="151" height="47"/><text x="5202.5" y="417.5">organelle organization</text></g>
<g id="n_raf" class="n"><rect class="w" x="5353" y="390.5" width="137" height="47"/><text x="5421.5" y="402.5">regulation of<tspan x="5421.5" dy="14.5">actin filament-based</tspan><tspan x="5421.5" dy="14.5">process</tspan></text></g>
<g id="n_rccs" class="n"><rect class="w" x="5515" y="390.5" width="128" height="47"/><text x="5579" y="402.5">regulation of<tspan x="5579" dy="14.5">cellular component</tspan><tspan x="5579" dy="14.5">size</tspan></text></g>
<g id="n_pcco" class="n"><rect class="w" x="5668" y="390.5" width="144" height="47"/><text x="5740" y="410">protein-containing<tspan x="5740" dy="14.5">complex organization</tspan></text></g>
<g id="n_ccd" class="n"><rect class="w" x="5836" y="390.5" width="127" height="47"/><text x="5899.5" y="410">cellular component<tspan x="5899.5" dy="14.5">disassembly</tspan></text></g>
<g id="n_rcco" class="n"><rect class="w" x="5989" y="390.5" width="128" height="47"/><text x="6053" y="402.5">regulation of<tspan x="6053" dy="14.5">cellular component</tspan><tspan x="6053" dy="14.5">organization</tspan></text></g>
<g id="n_sfo" class="n"><rect class="w" x="6192" y="390.5" width="117" height="47"/><text x="6250.5" y="410">supramolecular<tspan x="6250.5" dy="14.5">fiber organization</tspan></text></g>
<g id="n_cca" class="n"><rect class="w" x="6334" y="390.5" width="128" height="47"/><text x="6398" y="410">cellular component<tspan x="6398" dy="14.5">assembly</tspan></text></g>
<g id="n_roo" class="n"><rect class="w" x="5231" y="488" width="149" height="47"/><text x="5305.5" y="507.5">regulation of<tspan x="5305.5" dy="14.5">organelle organization</tspan></text></g>
<g id="n_csko" class="n"><rect class="w" x="5404" y="488" width="89" height="47"/><text x="5448.5" y="507.5">cytoskeleton<tspan x="5448.5" dy="14.5">organization</tspan></text></g>
<g id="n_pccd" class="n"><rect class="w" x="5829" y="488" width="144" height="47"/><text x="5901" y="507.5">protein-containing<tspan x="5901" dy="14.5">complex disassembly</tspan></text></g>
<g id="n_prcco" class="n"><rect class="w" x="6050" y="488" width="161" height="47"/><text x="6130.5" y="500">positive regulation<tspan x="6130.5" dy="14.5">of cellular</tspan><tspan x="6130.5" dy="14.5">component organization</tspan></text></g>
<g id="n_rsfo" class="n"><rect class="w" x="6237" y="488" width="117" height="47"/><text x="6295.5" y="500">regulation of<tspan x="6295.5" dy="14.5">supramolecular</tspan><tspan x="6295.5" dy="14.5">fiber organization</tspan></text></g>
<g id="n_pro" class="n"><rect class="w" x="5137" y="585.5" width="126" height="47"/><text x="5200" y="597.5">positive regulation<tspan x="5200" dy="14.5">of organelle</tspan><tspan x="5200" dy="14.5">organization</tspan></text></g>
<g id="n_rcsk" class="n"><rect class="w" x="5287" y="585.5" width="89" height="47"/><text x="5331.5" y="597.5">regulation of<tspan x="5331.5" dy="14.5">cytoskeleton</tspan><tspan x="5331.5" dy="14.5">organization</tspan></text></g>
<g id="n_aco" class="n"><rect class="w" x="5451" y="585.5" width="124" height="47"/><text x="5513" y="605">actin cytoskeleton<tspan x="5513" dy="14.5">organization</tspan></text></g>
<g id="n_pd" class="n"><rect class="w" x="5754" y="585.5" width="168" height="47"/><text x="5838" y="612.5">protein depolymerization</text></g>
<g id="n_rpccd" class="n"><rect class="w" x="5948" y="585.5" width="143" height="47"/><text x="6019.5" y="597.5">regulation of<tspan x="6019.5" dy="14.5">protein-containing</tspan><tspan x="6019.5" dy="14.5">complex disassembly</tspan></text></g>
<g id="n_prsfo" class="n"><rect class="w" x="6281" y="585.5" width="126" height="47"/><text x="6344" y="597.5">positive regulation<tspan x="6344" dy="14.5">of supramolecular</tspan><tspan x="6344" dy="14.5">fiber organization</tspan></text></g>
<g id="n_prcsk" class="n"><rect class="w" x="5283" y="683" width="126" height="47"/><text x="5346" y="695">positive regulation<tspan x="5346" dy="14.5">of cytoskeleton</tspan><tspan x="5346" dy="14.5">organization</tspan></text></g>
<g id="n_racsk" class="n"><rect class="w" x="5450" y="683" width="124" height="47"/><text x="5512" y="695">regulation of<tspan x="5512" dy="14.5">actin cytoskeleton</tspan><tspan x="5512" dy="14.5">organization</tspan></text></g>
<g id="n_afo" class="n"><rect class="w" x="5699" y="683" width="95" height="47"/><text x="5746.5" y="702.5">actin filament<tspan x="5746.5" dy="14.5">organization</tspan></text></g>
<g id="n_rpd" class="n"><rect class="w" x="5818" y="683" width="167" height="47"/><text x="5901.5" y="702.5">regulation of<tspan x="5901.5" dy="14.5">protein depolymerization</tspan></text></g>
<g id="n_prpccd" class="n"><rect class="w" x="6060" y="683" width="146" height="47"/><text x="6133" y="695">positive regulation<tspan x="6133" dy="14.5">of protein-containing</tspan><tspan x="6133" dy="14.5">complex disassembly</tspan></text></g>
<g id="n_rafl" class="n"><rect class="w" x="5465" y="780.5" width="94" height="47"/><text x="5512" y="792.5">regulation of<tspan x="5512" dy="14.5">actin filament</tspan><tspan x="5512" dy="14.5">length</tspan></text></g>
<g id="n_apd" class="n"><rect class="w" x="5634" y="780.5" width="137" height="47"/><text x="5702.5" y="800">actin polymerization<tspan x="5702.5" dy="14.5">or depolymerization</tspan></text></g>
<g id="n_rafo" class="n"><rect class="w" x="5797" y="780.5" width="94" height="47"/><text x="5844" y="792.5">regulation of<tspan x="5844" dy="14.5">actin filament</tspan><tspan x="5844" dy="14.5">organization</tspan></text></g>
<g id="n_afbo" class="n"><rect class="w" x="5967" y="780.5" width="129" height="47"/><text x="6031.5" y="800">actin filament<tspan x="6031.5" dy="14.5">bundle organization</tspan></text></g>
<g id="n_ppd" class="n"><rect class="w" x="6123" y="780.5" width="183" height="47"/><text x="6214.5" y="800">positive regulation<tspan x="6214.5" dy="14.5">of protein depolymerization</tspan></text></g>
<g id="n_afd" class="n"><rect class="w" x="5610" y="877.5" width="117" height="47"/><text x="5668.5" y="897">actin filament<tspan x="5668.5" dy="14.5">depolymerization</tspan></text></g>
<g id="n_rapd" class="n"><rect class="w" x="5753" y="877.5" width="136" height="47"/><text x="5821" y="889.5">regulation of<tspan x="5821" dy="14.5">actin polymerization</tspan><tspan x="5821" dy="14.5">or depolymerization</tspan></text></g>
<g id="n_afba" class="n"><rect class="w" x="6144" y="877.5" width="116" height="47"/><text x="6202" y="897">actin filament<tspan x="6202" dy="14.5">bundle assembly</tspan></text></g>
<g id="n_rafd" class="n"><rect class="w" x="5760" y="975" width="120" height="47"/><text x="5820" y="987">regulation of<tspan x="5820" dy="14.5">actin filament</tspan><tspan x="5820" dy="14.5">depolymerization</tspan></text></g>
<g id="n_arod" class="n"><rect class="lb" x="6138" y="975" width="128" height="47"/><text x="6202" y="1002">actin rod assembly</text></g>
<g id="n_pafd" class="n"><rect class="lb" x="5759" y="1071.5" width="124" height="47"/><text x="5821" y="1083.5">positive regulation<tspan x="5821" dy="14.5">of actin filament</tspan><tspan x="5821" dy="14.5">depolymerization</tspan></text></g>
<g id="n_rstim" class="n"><rect class="w" x="6919" y="100.5" width="81" height="47"/><text x="6959.5" y="120">response to<tspan x="6959.5" dy="14.5">stimulus</tspan></text></g>
<g id="n_crsti" class="n"><rect class="w" x="6842" y="196" width="116" height="47"/><text x="6900" y="215.5">cellular response<tspan x="6900" dy="14.5">to stimulus</tspan></text></g>
<g id="n_rchem" class="n"><rect class="w" x="6981" y="196" width="81" height="47"/><text x="7021.5" y="215.5">response to<tspan x="7021.5" dy="14.5">chemical</tspan></text></g>
<g id="n_rendo" class="n"><rect class="w" x="7316" y="196" width="143" height="47"/><text x="7387.5" y="215.5">response to<tspan x="7387.5" dy="14.5">endogenous stimulus</tspan></text></g>
<g id="n_rocc" class="n"><rect class="w" x="6692" y="293.5" width="125" height="47"/><text x="6754.5" y="305.5">response to<tspan x="6754.5" dy="14.5">oxygen-containing</tspan><tspan x="6754.5" dy="14.5">compound</tspan></text></g>
<g id="n_crchem" class="n"><rect class="w" x="6842" y="293.5" width="115" height="47"/><text x="6899.5" y="305.5">cellular response<tspan x="6899.5" dy="14.5">to chemical</tspan><tspan x="6899.5" dy="14.5">stimulus</tspan></text></g>
<g id="n_rsalt" class="n"><rect class="w" x="6981" y="293.5" width="81" height="47"/><text x="7021.5" y="313">response to<tspan x="7021.5" dy="14.5">salt</tspan></text></g>
<g id="n_ros" class="n"><rect class="w" x="7087" y="293.5" width="122" height="47"/><text x="7148" y="313">response to<tspan x="7148" dy="14.5">organic substance</tspan></text></g>
<g id="n_rnc" class="n"><rect class="w" x="7367" y="293.5" width="129" height="47"/><text x="7431.5" y="313">response to<tspan x="7431.5" dy="14.5">nitrogen compound</tspan></text></g>
<g id="n_crendo" class="n"><rect class="w" x="7559" y="293.5" width="115" height="47"/><text x="7616.5" y="305.5">cellular response<tspan x="7616.5" dy="14.5">to endogenous</tspan><tspan x="7616.5" dy="14.5">stimulus</tspan></text></g>
<g id="n_prcp" class="n"><rect class="w" x="6487" y="390.5" width="125" height="47"/><text x="6549.5" y="402.5">positive regulation<tspan x="6549.5" dy="14.5">of cellular</tspan><tspan x="6549.5" dy="14.5">process</tspan></text></g>
<g id="n_croc" class="n"><rect class="w" x="6636" y="390.5" width="142" height="47"/><text x="6707" y="402.5">cellular response<tspan x="6707" dy="14.5">to oxygen-containing</tspan><tspan x="6707" dy="14.5">compound</tspan></text></g>
<g id="n_crsalt" class="n"><rect class="w" x="6851" y="390.5" width="116" height="47"/><text x="6909" y="410">cellular response<tspan x="6909" dy="14.5">to salt</tspan></text></g>
<g id="n_rocyc" class="n"><rect class="w" x="7093" y="390.5" width="92" height="47"/><text x="7139" y="402.5">response to<tspan x="7139" dy="14.5">organic cyclic</tspan><tspan x="7139" dy="14.5">compound</tspan></text></g>
<g id="n_cros" class="n"><rect class="w" x="7210" y="390.5" width="139" height="47"/><text x="7279.5" y="410">cellular response<tspan x="7279.5" dy="14.5">to organic substance</tspan></text></g>
<g id="n_crnc" class="n"><rect class="w" x="7373" y="390.5" width="115" height="47"/><text x="7430.5" y="402.5">cellular response<tspan x="7430.5" dy="14.5">to nitrogen</tspan><tspan x="7430.5" dy="14.5">compound</tspan></text></g>
<g id="n_ronc" class="n"><rect class="w" x="7514" y="390.5" width="102" height="47"/><text x="7565" y="402.5">response to<tspan x="7565" dy="14.5">organonitrogen</tspan><tspan x="7565" dy="14.5">compound</tspan></text></g>
<g id="n_rop" class="n"><rect class="w" x="7029" y="488" width="124" height="47"/><text x="7091" y="507.5">response to<tspan x="7091" dy="14.5">organophosphorus</tspan></text></g>
<g id="n_crocyc" class="n"><rect class="w" x="7178" y="488" width="115" height="47"/><text x="7235.5" y="500">cellular response<tspan x="7235.5" dy="14.5">to organic cyclic</tspan><tspan x="7235.5" dy="14.5">compound</tspan></text></g>
<g id="n_rpur" class="n"><rect class="w" x="7318" y="488" width="118" height="47"/><text x="7377" y="500">response to<tspan x="7377" dy="14.5">purine-containing</tspan><tspan x="7377" dy="14.5">compound</tspan></text></g>
<g id="n_cronc" class="n"><rect class="w" x="7460" y="488" width="120" height="47"/><text x="7520" y="500">cellular response<tspan x="7520" dy="14.5">to organonitrogen</tspan><tspan x="7520" dy="14.5">compound</tspan></text></g>
<g id="n_ratp" class="n"><rect class="w" x="6968" y="585.5" width="81" height="47"/><text x="7008.5" y="605">response to<tspan x="7008.5" dy="14.5">ATP</tspan></text></g>
<g id="n_cratp" class="n"><rect class="lb" x="6951" y="683" width="115" height="47"/><text x="7008.5" y="702.5">cellular response<tspan x="7008.5" dy="14.5">to ATP</tspan></text></g>
</svg>
